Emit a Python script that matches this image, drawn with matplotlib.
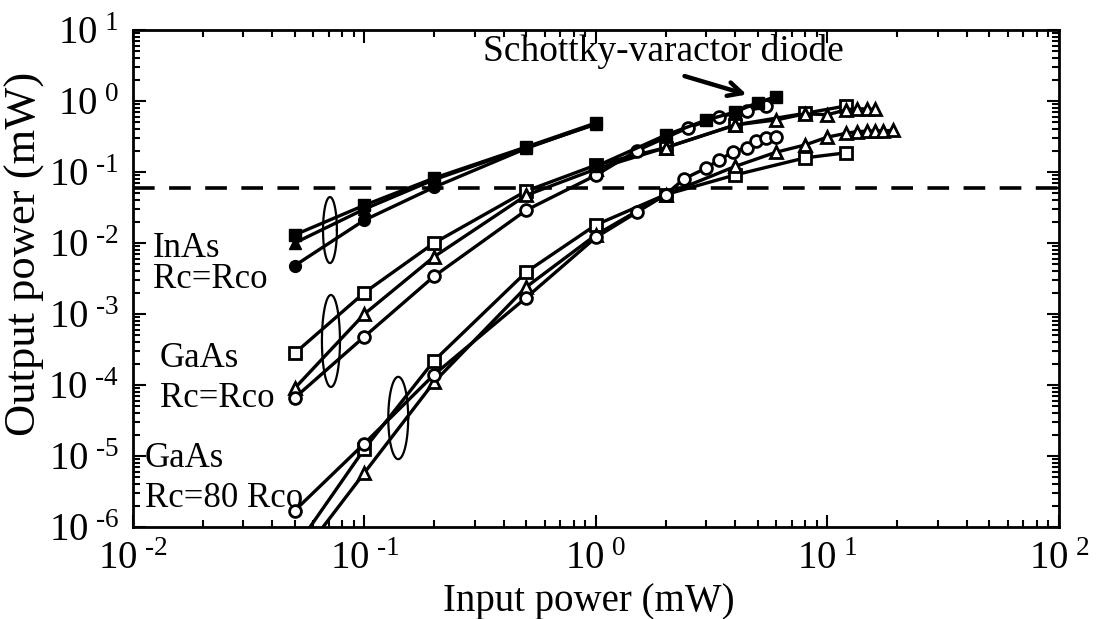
import numpy as np
import matplotlib
matplotlib.use("Agg")
import matplotlib.pyplot as plt
from matplotlib.ticker import FuncFormatter, LogLocator

plt.rcParams['font.family'] = ['Liberation Serif', 'DejaVu Serif']
plt.rcParams['mathtext.fontset'] = 'custom'
plt.rcParams['mathtext.rm'] = 'Liberation Serif'

# InAs, Rc = Rco (filled symbols)
inas_x = [0.05, 0.1, 0.2, 0.5, 1.0]
inas_sq = [0.013, 0.034, 0.082, 0.225, 0.49]
inas_tri = [0.010, 0.030, 0.078, 0.22, 0.47]
inas_circ = [0.0048, 0.021, 0.061, 0.215, 0.48]

# GaAs, Rc = Rco (open symbols)
gaas1_sq_x = [0.05, 0.1, 0.2, 0.5, 1, 2, 4, 8, 12]
gaas1_sq_y = [2.8e-4, 2.0e-3, 1.0e-2, 5.4e-2, 0.125, 0.22, 0.46, 0.67, 0.85]
gaas1_tri_x = [0.05, 0.1, 0.2, 0.5, 1, 2, 4, 6, 8, 10, 12, 13.4, 14.8, 16]
gaas1_tri_y = [9e-5, 1.0e-3, 6.4e-3, 4.7e-2, 0.11, 0.22, 0.46, 0.54, 0.66, 0.64, 0.75, 0.78, 0.77, 0.76]
gaas1_circ_x = [0.05, 0.1, 0.2, 0.5, 1, 1.5, 2.5, 3.4, 4.5, 5.4]
gaas1_circ_y = [6.6e-5, 4.8e-4, 3.4e-3, 2.9e-2, 0.09, 0.20, 0.42, 0.60, 0.72, 0.85]

# Schottky-varactor diode
schottky_x = [1, 2, 3, 4, 5, 6]
schottky_y = [0.12, 0.33, 0.54, 0.70, 0.95, 1.15]

# GaAs, Rc = 80 Rco (open symbols)
gaas80_sq_x = [0.05, 0.1, 0.2, 0.5, 1, 2, 4, 8, 12]
gaas80_sq_y = [4.9e-7, 1.26e-5, 2.2e-4, 3.9e-3, 0.018, 0.048, 0.091, 0.158, 0.186]
gaas80_tri_x = [0.05, 0.1, 0.2, 0.5, 1, 2, 4, 6, 8, 10, 12, 13.4, 14.8, 16, 17.4, 19.2]
gaas80_tri_y = [3e-7, 5.8e-6, 1.1e-4, 2.4e-3, 0.013, 0.048, 0.12, 0.19, 0.24, 0.31, 0.35,
                0.37, 0.375, 0.38, 0.38, 0.385]
gaas80_circ_x = [0.05, 0.1, 0.2, 0.5, 1, 1.5, 2, 2.4, 3, 3.4, 3.9, 4.5, 4.9, 5.4, 6]
gaas80_circ_y = [1.7e-6, 1.5e-5, 1.4e-4, 1.7e-3, 0.012, 0.027, 0.048, 0.08, 0.114, 0.148,
                 0.19, 0.22, 0.27, 0.30, 0.31]

threshold = 0.06

fig = plt.figure(figsize=(10.98, 6.19), dpi=100)
ax = fig.add_axes([0.121, 0.1486, 0.8435, 0.803])
ax.set_xscale('log')
ax.set_yscale('log')
ax.set_xlim(1e-2, 1e2)
ax.set_ylim(1e-6, 1e1)

lw = 2.4
filled = dict(color='black', lw=lw, ms=8.5, mfc='black', mec='black')
opened = dict(color='black', lw=lw, ms=8.5, mfc='white', mec='black', mew=2)

ax.plot(inas_x, inas_sq, marker='s', **filled)
ax.plot(inas_x, inas_tri, marker='^', **filled)
ax.plot(inas_x, inas_circ, marker='o', **filled)

ax.plot(gaas1_sq_x, gaas1_sq_y, marker='s', **opened)
ax.plot(gaas1_tri_x, gaas1_tri_y, marker='^', **opened)
ax.plot(gaas1_circ_x, gaas1_circ_y, marker='o', **opened)
ax.plot(schottky_x, schottky_y, marker='s', **filled)

ax.plot(gaas80_sq_x, gaas80_sq_y, marker='s', **opened)
ax.plot(gaas80_tri_x, gaas80_tri_y, marker='^', **opened)
ax.plot(gaas80_circ_x, gaas80_circ_y, marker='o', **opened)

ax.axhline(threshold, color='black', lw=2.6, dashes=(6, 4))


def log_ellipse(cx, cy, half_w, half_h):
    t = np.linspace(0, 2 * np.pi, 200)
    ax.plot(cx * 10 ** (half_w * np.cos(t)), cy * 10 ** (half_h * np.sin(t)),
            color='black', lw=1.6)


log_ellipse(0.071, 0.0152, 0.030, 0.465)
log_ellipse(0.0717, 4.17e-4, 0.039, 0.648)
log_ellipse(0.140, 3.43e-5, 0.043, 0.58)

fs = 25
ax.text(0.0122, 6.4e-3, 'InAs', fontsize=fs, va='baseline', ha='left')
ax.text(0.0122, 2.3e-3, 'Rc=Rco', fontsize=fs, va='baseline', ha='left')
ax.text(0.0131, 1.78e-4, 'GaAs', fontsize=fs, va='baseline', ha='left')
ax.text(0.0131, 4.9e-5, 'Rc=Rco', fontsize=fs, va='baseline', ha='left')
ax.text(0.01127, 7.0e-6, 'GaAs', fontsize=fs, va='baseline', ha='left')
ax.text(0.01127, 1.9e-6, 'Rc=80 Rco', fontsize=fs, va='baseline', ha='left')

ax.annotate('', xy=(4.6, 1.2), xytext=(2.35, 2.3),
            arrowprops=dict(arrowstyle='->,head_length=1.0,head_width=0.5',
                            color='black', lw=3.2))
ax.text(1.95, 4.9, 'Schottky-varactor diode', fontsize=27, ha='center', va='center')


def pow10(v, _):
    e = int(round(np.log10(v)))
    sign = r'\text{-}' if e < 0 else ''
    return r'$\mathdefault{10^{\;%s%d}}$' % (sign, abs(e))


for axis in (ax.xaxis, ax.yaxis):
    axis.set_major_locator(LogLocator(base=10, numticks=12))
    axis.set_minor_locator(LogLocator(base=10, subs=np.arange(2, 10), numticks=12))
    axis.set_major_formatter(FuncFormatter(pow10))

ax.tick_params(which='both', direction='in', top=True, right=True, width=1.5)
ax.tick_params(which='major', length=9, labelsize=28)
ax.tick_params(axis='x', which='major', pad=10)
ax.tick_params(axis='y', which='major', pad=10)
ax.tick_params(which='minor', length=5)
for s in ax.spines.values():
    s.set_linewidth(2)

ax.set_xlabel('Input power (mW)', fontsize=28)
ax.set_ylabel('Output power (mW)', fontsize=32)
ax.xaxis.set_label_coords(0.492, -0.15)
ax.xaxis.label.set_va('center')
ax.yaxis.set_label_coords(-0.117, 0.55)
ax.yaxis.label.set_va('center')

fig.savefig('out.png', dpi=100)
